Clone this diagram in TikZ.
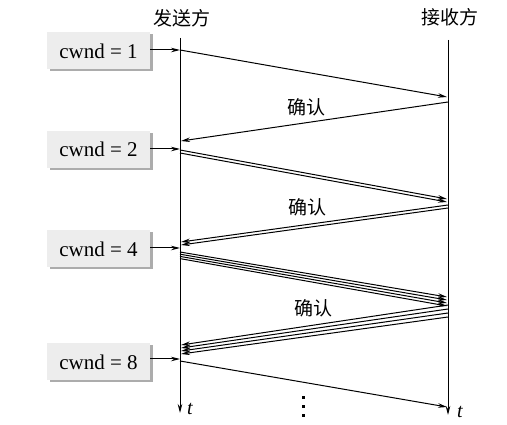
\documentclass[tikz,border=0pt]{standalone}
\usepackage{fontspec}
\setmainfont{Liberation Serif}
\newfontfamily\cjk{Noto Sans CJK SC}
\usetikzlibrary{arrows.meta,shadows}
\begin{document}
\begin{tikzpicture}[x=1pt,y=-1pt,
  every node/.style={font=\fontsize{21}{25}\selectfont},
  cwndbox/.style={fill=gray!14, minimum width=103pt, minimum height=37pt, inner sep=0pt,
    drop shadow={shadow xshift=2.5pt, shadow yshift=-2pt, fill=gray!65, opacity=1}},
  timeline/.style={line width=1pt, -{Stealth[length=9pt,width=4.5pt]}},
  msg/.style={line width=1pt, -{Stealth[length=9pt,width=4.5pt]}},
  ptr/.style={line width=1pt, -{Stealth[length=9pt,width=4.5pt]}},
  cjklabel/.style={font=\cjk\fontsize{19}{22}\selectfont, inner sep=0pt},
  tlabel/.style={font=\fontsize{20}{24}\selectfont\itshape, inner sep=0pt}
]
\useasboundingbox (0,0) rectangle (507,425);

% headers
\node[cjklabel] (snd) at (182,18) {发送方};
\node[cjklabel] (rcv) at (450,17) {接收方};

% timelines
\coordinate (sTop) at (180,38);
\coordinate (sBot) at (180,413);
\coordinate (rTop) at (448,40);
\coordinate (rBot) at (448,415);
\draw[timeline] (sTop) -- (sBot);
\draw[timeline] (rTop) -- (rBot);
\node[tlabel] (ts) at (190,409) {t};
\node[tlabel] (tr) at (460,412) {t};

% cwnd boxes
\node[cwndbox] (b1) at (98.5,51) {cwnd = 1};
\node[cwndbox] (b2) at (98.5,149.5) {cwnd = 2};
\node[cwndbox] (b4) at (98.5,249) {cwnd = 4};
\node[cwndbox] (b8) at (98.5,362) {cwnd = 8};

\coordinate (p1) at (180,50);
\coordinate (p2) at (180,149);
\coordinate (p4) at (180,248);
\coordinate (p8) at (180,359);
\draw[ptr] (b1.east |- p1) -- (p1);
\draw[ptr] (b2.east |- p2) -- (p2);
\draw[ptr] (b4.east |- p4) -- (p4);
\draw[ptr] (b8.east |- p8) -- (p8);

% round 1
\coordinate (s1) at (180,50);   \coordinate (r1) at (447,97);
\draw[msg] (s1) -- (r1);
\coordinate (ra1) at (448,102); \coordinate (sa1) at (181,141);
\draw[msg] (ra1) -- (sa1);
\node[cjklabel] (ack1) at (306,107) {确认};

% round 2
\foreach \i in {0,1}{
  \coordinate (s2\i) at (180,{150+3*\i});
  \coordinate (r2\i) at (447,{199+3*\i});
  \draw[msg] (s2\i) -- (r2\i);
  \coordinate (ra2\i) at (448,{205+3*\i});
  \coordinate (sa2\i) at (181,{242+3*\i});
  \draw[msg] (ra2\i) -- (sa2\i);
}
\node[cjklabel] (ack2) at (307,207) {确认};

% round 4
\foreach \i in {0,1,2,3}{
  \coordinate (s4\i) at (180,{252+2.2*\i});
  \coordinate (r4\i) at (447,{297+3*\i});
  \draw[msg] (s4\i) -- (r4\i);
  \coordinate (ra4\i) at (448,{305+4*\i});
  \coordinate (sa4\i) at (181,{345+3*\i});
  \draw[msg] (ra4\i) -- (sa4\i);
}
\node[cjklabel] (ack4) at (313,308) {确认};

% round 8
\coordinate (s8) at (180,361); \coordinate (r8) at (447,407);
\draw[msg] (s8) -- (r8);

% continuation dots
\foreach \y in {396,405,414}{
  \fill (302,\y) rectangle (305,{\y+3});
}
\end{tikzpicture}
\end{document}
